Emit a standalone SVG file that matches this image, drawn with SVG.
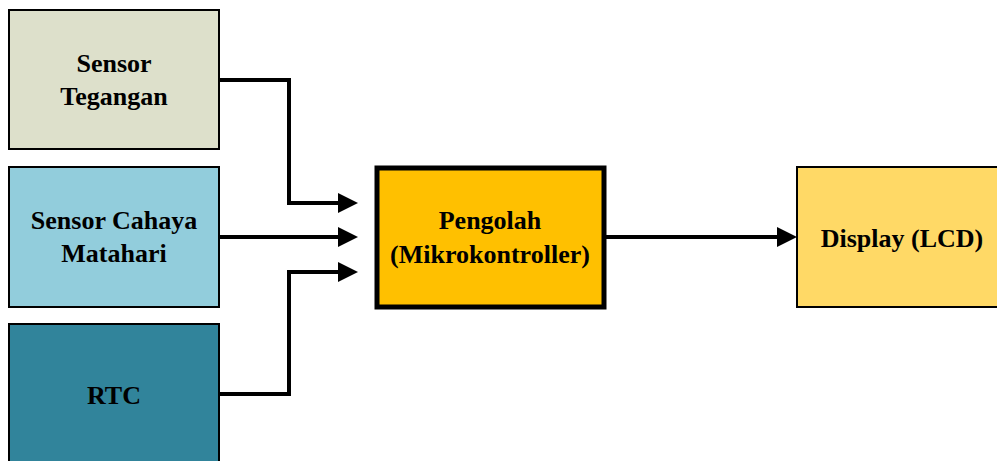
<svg xmlns="http://www.w3.org/2000/svg" width="997" height="461" viewBox="0 0 997 461">
<defs>
<style>
.box{stroke:#000;stroke-width:2}
.t{font-family:"Liberation Serif","Times New Roman",serif;font-weight:bold;font-size:26px;fill:#000;text-anchor:middle}
.c{fill:none;stroke:#000;stroke-width:4;stroke-linejoin:miter}
</style>
<marker id="ah" viewBox="0 0 20 20" refX="1" refY="10" markerWidth="20" markerHeight="20" markerUnits="userSpaceOnUse" orient="auto">
<path d="M0,0 L20,10 L0,20 Z" fill="#000"/>
</marker>
</defs>
<rect width="997" height="461" fill="#fff"/>
<g id="sensor-tegangan">
<rect class="box" x="9" y="10" width="210" height="139" fill="#DDE0CB"/>
<text class="t" x="114" y="72">Sensor</text>
<text class="t" x="114" y="105">Tegangan</text>
</g>
<g id="sensor-cahaya">
<rect class="box" x="9" y="167" width="210" height="140" fill="#92CDDC"/>
<text class="t" x="114" y="229">Sensor Cahaya</text>
<text class="t" x="114" y="262">Matahari</text>
</g>
<g id="rtc">
<rect class="box" x="9" y="324" width="210" height="150" fill="#31849B"/>
<text class="t" x="114" y="404">RTC</text>
</g>
<g id="pengolah">
<rect x="377" y="168" width="227" height="139" fill="#FFC000" stroke="#000" stroke-width="5"/>
<text class="t" x="490" y="229">Pengolah</text>
<text class="t" x="490" y="263">(Mikrokontroller)</text>
</g>
<g id="display">
<rect class="box" x="797" y="167" width="210" height="140" fill="#FFD966"/>
<text class="t" x="902" y="247">Display (LCD)</text>
</g>
<g id="connectors">
<path class="c" d="M219,80 H289 V203 H339" marker-end="url(#ah)"/>
<path class="c" d="M219,237 H339" marker-end="url(#ah)"/>
<path class="c" d="M219,394 H289 V272 H339" marker-end="url(#ah)"/>
<path class="c" d="M605,237 H778" marker-end="url(#ah)"/>
</g>
</svg>
